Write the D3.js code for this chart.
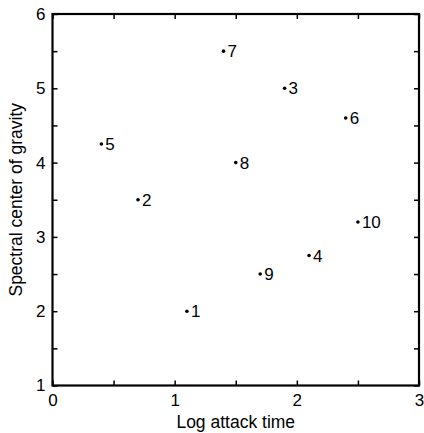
<!DOCTYPE html>
<html><head><meta charset="utf-8">
<script src="https://cdn.jsdelivr.net/npm/d3@7"></script>
<style>body{margin:0;background:#fff}svg{display:block}text{font-family:"Liberation Sans",Arial,sans-serif}</style>
</head><body>
<script>
const labels = ["1","2","3","4","5","6","7","8","9","10"];
const logAttack = [1.1, 0.7, 1.9, 2.1, 0.4, 2.4, 1.4, 1.5, 1.7, 2.5];
const spectralCenter = [2.0, 3.5, 5.0, 2.75, 4.25, 4.6, 5.5, 4.0, 2.5, 3.2];
const xTicks = [0, 0.5, 1, 1.5, 2, 2.5, 3];
const yTicks = [1, 1.5, 2, 2.5, 3, 3.5, 4, 4.5, 5, 5.5, 6];

const W = 424, H = 433;
const m = {l: 52.5, r: 5, t: 14, b: 47.5};
const svg = d3.select("body").append("svg").attr("width", W).attr("height", H);
const x = d3.scaleLinear().domain([0, 3]).range([m.l, W - m.r]);
const y = d3.scaleLinear().domain([1, 6]).range([H - m.b, m.t]);
const fmt = d => Number.isInteger(d) ? String(d) : "";

function styleAxis(g){
  g.select(".domain").remove();
  g.selectAll("line").attr("stroke", "#000").attr("stroke-width", 1.5);
  g.selectAll("text").attr("font-size", 17).attr("fill", "#000").attr("font-family", '"Liberation Sans",Arial,sans-serif');
}
svg.append("g").attr("transform", `translate(0,${y(1)})`)
  .call(d3.axisBottom(x).tickValues(xTicks).tickFormat(fmt).tickSize(-5).tickPadding(8)).call(styleAxis);
svg.append("g").attr("transform", `translate(0,${y(6)})`)
  .call(d3.axisTop(x).tickValues(xTicks).tickFormat("").tickSize(-5)).call(styleAxis);
svg.append("g").attr("transform", `translate(${x(0)},0)`)
  .call(d3.axisLeft(y).tickValues(yTicks).tickFormat(fmt).tickSize(-5).tickPadding(7)).call(styleAxis);
svg.append("g").attr("transform", `translate(${x(3)},0)`)
  .call(d3.axisRight(y).tickValues(yTicks).tickFormat("").tickSize(-5)).call(styleAxis);

svg.append("rect").attr("x", x(0)).attr("y", y(6)).attr("width", x(3) - x(0)).attr("height", y(1) - y(6))
  .attr("fill", "none").attr("stroke", "#000").attr("stroke-width", 2.2);

const pts = labels.map((l, i) => ({l, x: logAttack[i], y: spectralCenter[i]}));
const g = svg.append("g");
g.selectAll("circle").data(pts).join("circle")
  .attr("cx", d => x(d.x)).attr("cy", d => y(d.y)).attr("r", 1.8).attr("fill", "#000");
g.selectAll("text").data(pts).join("text")
  .attr("x", d => x(d.x) + 4).attr("y", d => y(d.y)).attr("dy", "0.36em")
  .attr("font-size", 17).attr("fill", "#000").text(d => d.l);

svg.append("text").attr("x", (x(0) + x(3)) / 2).attr("y", 428).attr("text-anchor", "middle")
  .attr("font-size", 17.5).text("Log attack time");
svg.append("text").attr("transform", `translate(22,${(y(1) + y(6)) / 2}) rotate(-90)`)
  .attr("text-anchor", "middle").attr("font-size", 17.5).text("Spectral center of gravity");
</script>
</body></html>
